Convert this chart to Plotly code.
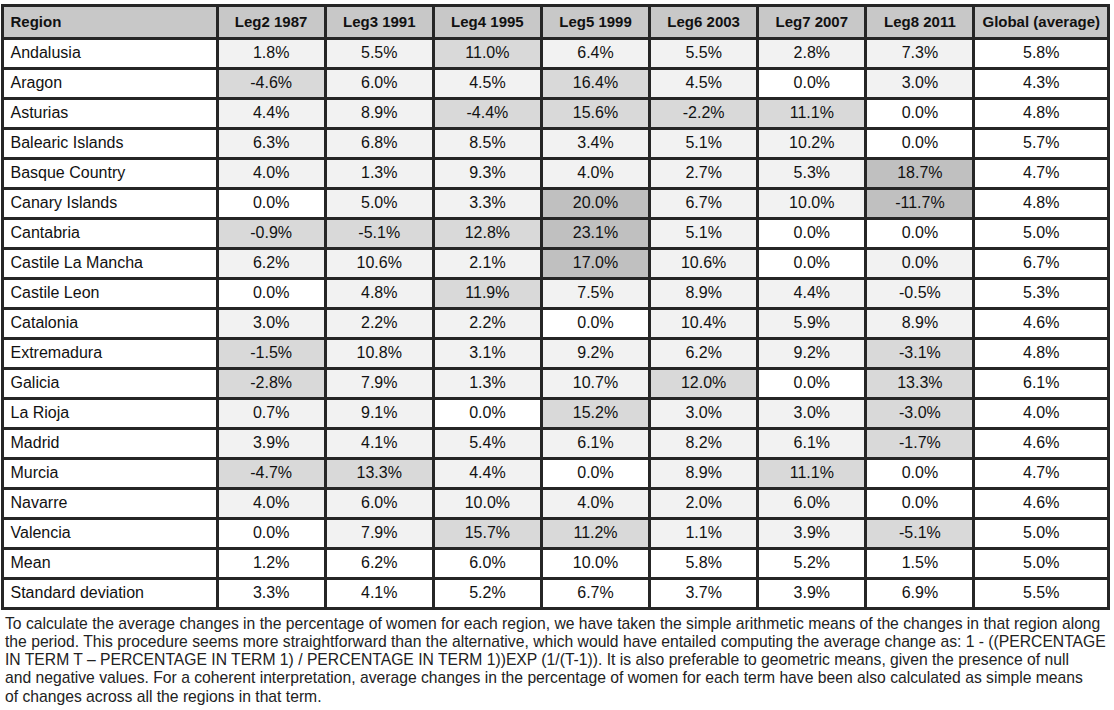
import plotly.graph_objects as go

headers = ["Region", "Leg2 1987", "Leg3 1991", "Leg4 1995", "Leg5 1999",
           "Leg6 2003", "Leg7 2007", "Leg8 2011", "Global\u00a0(average)"]

regions = ["Andalusia", "Aragon", "Asturias", "Balearic Islands", "Basque Country",
           "Canary Islands", "Cantabria", "Castile La Mancha", "Castile Leon",
           "Catalonia", "Extremadura", "Galicia", "La Rioja", "Madrid", "Murcia",
           "Navarre", "Valencia"]

leg2 = [1.8, -4.6, 4.4, 6.3, 4.0, 0.0, -0.9, 6.2, 0.0, 3.0, -1.5, -2.8, 0.7, 3.9, -4.7, 4.0, 0.0]
leg3 = [5.5, 6.0, 8.9, 6.8, 1.3, 5.0, -5.1, 10.6, 4.8, 2.2, 10.8, 7.9, 9.1, 4.1, 13.3, 6.0, 7.9]
leg4 = [11.0, 4.5, -4.4, 8.5, 9.3, 3.3, 12.8, 2.1, 11.9, 2.2, 3.1, 1.3, 0.0, 5.4, 4.4, 10.0, 15.7]
leg5 = [6.4, 16.4, 15.6, 3.4, 4.0, 20.0, 23.1, 17.0, 7.5, 0.0, 9.2, 10.7, 15.2, 6.1, 0.0, 4.0, 11.2]
leg6 = [5.5, 4.5, -2.2, 5.1, 2.7, 6.7, 5.1, 10.6, 8.9, 10.4, 6.2, 12.0, 3.0, 8.2, 8.9, 2.0, 1.1]
leg7 = [2.8, 0.0, 11.1, 10.2, 5.3, 10.0, 0.0, 0.0, 4.4, 5.9, 9.2, 0.0, 3.0, 6.1, 11.1, 6.0, 3.9]
# Castile La Mancha 2011 shows 0.0% but is shaded, so it is a tiny non-zero value
leg8 = [7.3, 3.0, 0.0, 0.0, 18.7, -11.7, 0.0, 0.04, -0.5, 8.9, -3.1, 13.3, -3.0, -1.7, 0.0, 0.0, -5.1]
global_avg = [5.8, 4.3, 4.8, 5.7, 4.7, 4.8, 5.0, 6.7, 5.3, 4.6, 4.8, 6.1, 4.0, 4.6, 4.7, 4.6, 5.0]

mean_row = [1.2, 6.2, 6.0, 10.0, 5.8, 5.2, 1.5, 5.0]
std_row = [3.3, 4.1, 5.2, 6.7, 3.7, 3.9, 6.9, 5.5]

note_lines = [
    "To calculate the average changes in the percentage of women for each region, we have taken the simple arithmetic means of the changes in that region along",
    "the period. This procedure seems more straightforward than the alternative, which would have entailed computing the average change as: 1 - ((PERCENTAGE",
    "IN TERM T \u2013 PERCENTAGE IN TERM 1) / PERCENTAGE IN TERM 1))EXP (1/(T-1)). It is also preferable to geometric means, given the presence of null",
    "and negative values. For a coherent interpretation, average changes in the percentage of women for each term have been also calculated as simple means",
    "of changes across all the regions in that term.",
]

W, H = 1114, 710
FONT = "Liberation Sans, Arial"


def shade(v):
    if v == 0:
        return "#ffffff"
    if v >= 17 or v <= -11:
        return "#c0c0c0"
    if v >= 11 or v <= -0.75:
        return "#d9d9d9"
    return "#f2f2f2"


def main():
    legs = [leg2, leg3, leg4, leg5, leg6, leg7, leg8]
    n = len(regions)

    values = [regions + ["Mean", "Standard deviation"]]
    fills = [["#ffffff"] * (n + 2)]
    for i, col in enumerate(legs):
        values.append([f"{v:.1f}%" for v in col] + [f"{mean_row[i]:.1f}%", f"{std_row[i]:.1f}%"])
        fills.append([shade(v) for v in col] + ["#ffffff", "#ffffff"])
    values.append([f"{v:.1f}%" for v in global_avg] + [f"{mean_row[7]:.1f}%", f"{std_row[7]:.1f}%"])
    fills.append(["#ffffff"] * (n + 2))

    align = ["left"] + ["center"] * 8

    fig = go.Figure(go.Table(
        domain=dict(x=[2.5 / W, 1108.5 / W], y=[0.05, 1 - 5 / H]),
        columnwidth=[214.5, 108.1, 108.1, 108.1, 108.1, 108.1, 108.1, 108.1, 134.5],
        header=dict(values=[f"<b>{h}</b>" for h in headers],
                    fill_color="#c8c8c8",
                    line=dict(color="#262626", width=3),
                    align=align,
                    font=dict(family=FONT, size=15, color="#111111"),
                    height=31),
        cells=dict(values=values,
                   fill_color=fills,
                   line=dict(color="#262626", width=3),
                   align=align,
                   font=dict(family=FONT, size=16, color="#111111"),
                   height=30),
    ))

    # footnote, one annotation per line to keep the tight line spacing
    for k, line in enumerate(note_lines):
        fig.add_annotation(x=3 / W, y=1 - (623 + 18.3 * k) / H, xref="paper", yref="paper",
                           xanchor="left", yanchor="middle", align="left", showarrow=False,
                           text=line,
                           font=dict(family=FONT, size=15.7, color="#222222"))

    fig.update_layout(width=W, height=H, margin=dict(l=0, r=0, t=0, b=0),
                      paper_bgcolor="white", plot_bgcolor="white")
    fig.write_html("out.html", config={"displayModeBar": False},
                   post_script="document.body.style.margin='0px';")


if __name__ == "__main__":
    main()
